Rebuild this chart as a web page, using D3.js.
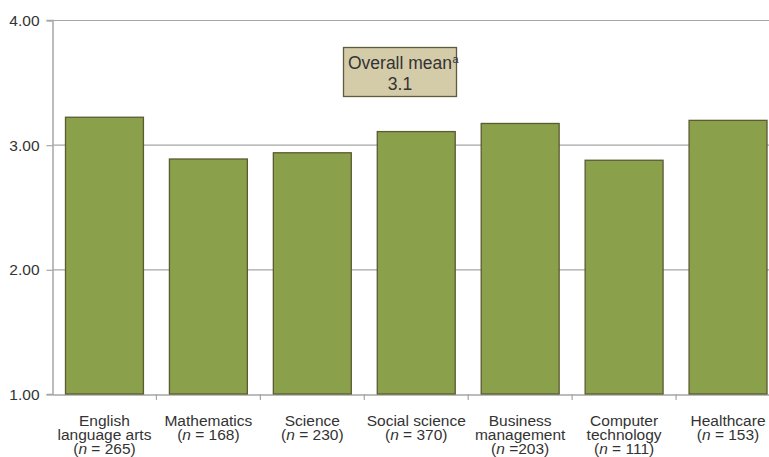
<!DOCTYPE html>
<html><head><meta charset="utf-8">
<script src="https://cdn.jsdelivr.net/npm/d3@7/dist/d3.min.js"></script>
<style>body{margin:0;background:#fff;}svg{display:block;font-family:"Liberation Sans",Arial,Helvetica,sans-serif;}</style>
</head><body>
<svg id="c" width="769" height="457"></svg>
<script>
const categories = ["English language arts", "Mathematics", "Science", "Social science", "Business management", "Computer technology", "Healthcare"];
const labelLines = [
  [["English"], ["language arts"], ["(", "n", " = 265)"]],
  [["Mathematics"], ["(", "n", " = 168)"]],
  [["Science"], ["(", "n", " = 230)"]],
  [["Social science"], ["(", "n", " = 370)"]],
  [["Business"], ["management"], ["(", "n", " =203)"]],
  [["Computer"], ["technology"], ["(", "n", " = 111)"]],
  [["Healthcare"], ["(", "n", " = 153)"]]
];
const values = [3.22, 2.885, 2.935, 3.105, 3.17, 2.875, 3.195];
const yTicks = [1, 2, 3, 4];
const overallMean = 3.1;

const svg = d3.select("#c");
const m = {left: 52.5, top: 20, right: 780, bottom: 394};
const x = d3.scaleBand().domain(categories).range([m.left, m.right]).paddingInner(0.25).paddingOuter(0.125);
const y = d3.scaleLinear().domain([1, 4]).range([m.bottom, m.top]);

// gridlines
svg.append("g").selectAll("line").data(yTicks.slice(1)).join("line")
  .attr("x1", m.left).attr("x2", m.right)
  .attr("y1", d => y(d)+0.5).attr("y2", d => y(d)+0.5)
  .attr("stroke", "#a6a6a6").attr("stroke-width", 1.2);

// y axis
const ya = svg.append("g").attr("transform", `translate(${m.left},0)`)
  .call(d3.axisLeft(y).tickValues(yTicks).tickFormat(d3.format(".2f")).tickSize(6).tickPadding(7));
ya.select(".domain").attr("stroke", "#a6a6a6").attr("stroke-width", 1.5);
ya.selectAll(".tick line").attr("stroke", "#a6a6a6").attr("stroke-width", 1.2).attr("transform", "translate(0,0.5)");
ya.selectAll(".tick text").attr("font-size", 15.5).attr("fill", "#333").attr("font-family", "Liberation Sans, Arial, sans-serif").attr("dy", "0.36em");

// x axis
const xa = svg.append("g").attr("transform", `translate(0,${m.bottom+0.5})`)
  .call(d3.axisBottom(x).tickSize(0).tickFormat(""));
xa.select(".domain").attr("stroke", "#a6a6a6").attr("stroke-width", 1.5);
// category boundary ticks
const bounds = categories.slice(1).map(c => x(c) - x.step()*x.paddingInner()/2);
svg.append("g").selectAll("line").data(bounds).join("line")
  .attr("x1", d => d).attr("x2", d => d)
  .attr("y1", m.bottom).attr("y2", m.bottom + 6)
  .attr("stroke", "#a6a6a6").attr("stroke-width", 1.2);

// bars
svg.append("g").selectAll("rect").data(values).join("rect")
  .attr("x", (d, i) => x(categories[i]))
  .attr("width", x.bandwidth())
  .attr("y", d => y(d))
  .attr("height", d => y(1) - y(d))
  .attr("fill", "#8aa04b").attr("stroke", "#5c5a33").attr("stroke-width", 1.3);

// labels
const lg = svg.append("g").attr("font-size", 15.5).attr("fill", "#333");
labelLines.forEach((lines, i) => {
  const cx = x(categories[i]) + x.bandwidth()/2;
  const t = lg.append("text").attr("text-anchor", "middle");
  lines.forEach((parts, j) => {
    parts.forEach((p, k) => {
      const ts = t.append("tspan").text(p);
      if (k === 0) ts.attr("x", cx).attr("y", 426 + j*14);
      if (p === "n") ts.attr("font-style", "italic");
    });
  });
});

// overall mean box
const bx = 343.5, by = 47.5, bw = 113, bh = 49;
svg.append("rect").attr("x", bx).attr("y", by).attr("width", bw).attr("height", bh)
  .attr("fill", "#d4cba9").attr("stroke", "#5e5a3c").attr("stroke-width", 1.3);
const mt = svg.append("g").attr("font-size", 17.5).attr("fill", "#333");
const l1 = mt.append("text").attr("x", bx + bw/2).attr("y", 69).attr("text-anchor", "middle").text("Overall mean");
const w1 = l1.node().getComputedTextLength();
mt.append("text").attr("x", bx + bw/2 + w1/2 + 0.5).attr("y", 63).attr("font-size", 11).text("a");
mt.append("text").attr("x", bx + bw/2).attr("y", 90).attr("text-anchor", "middle").text(overallMean.toFixed(1));
</script>
</body></html>
